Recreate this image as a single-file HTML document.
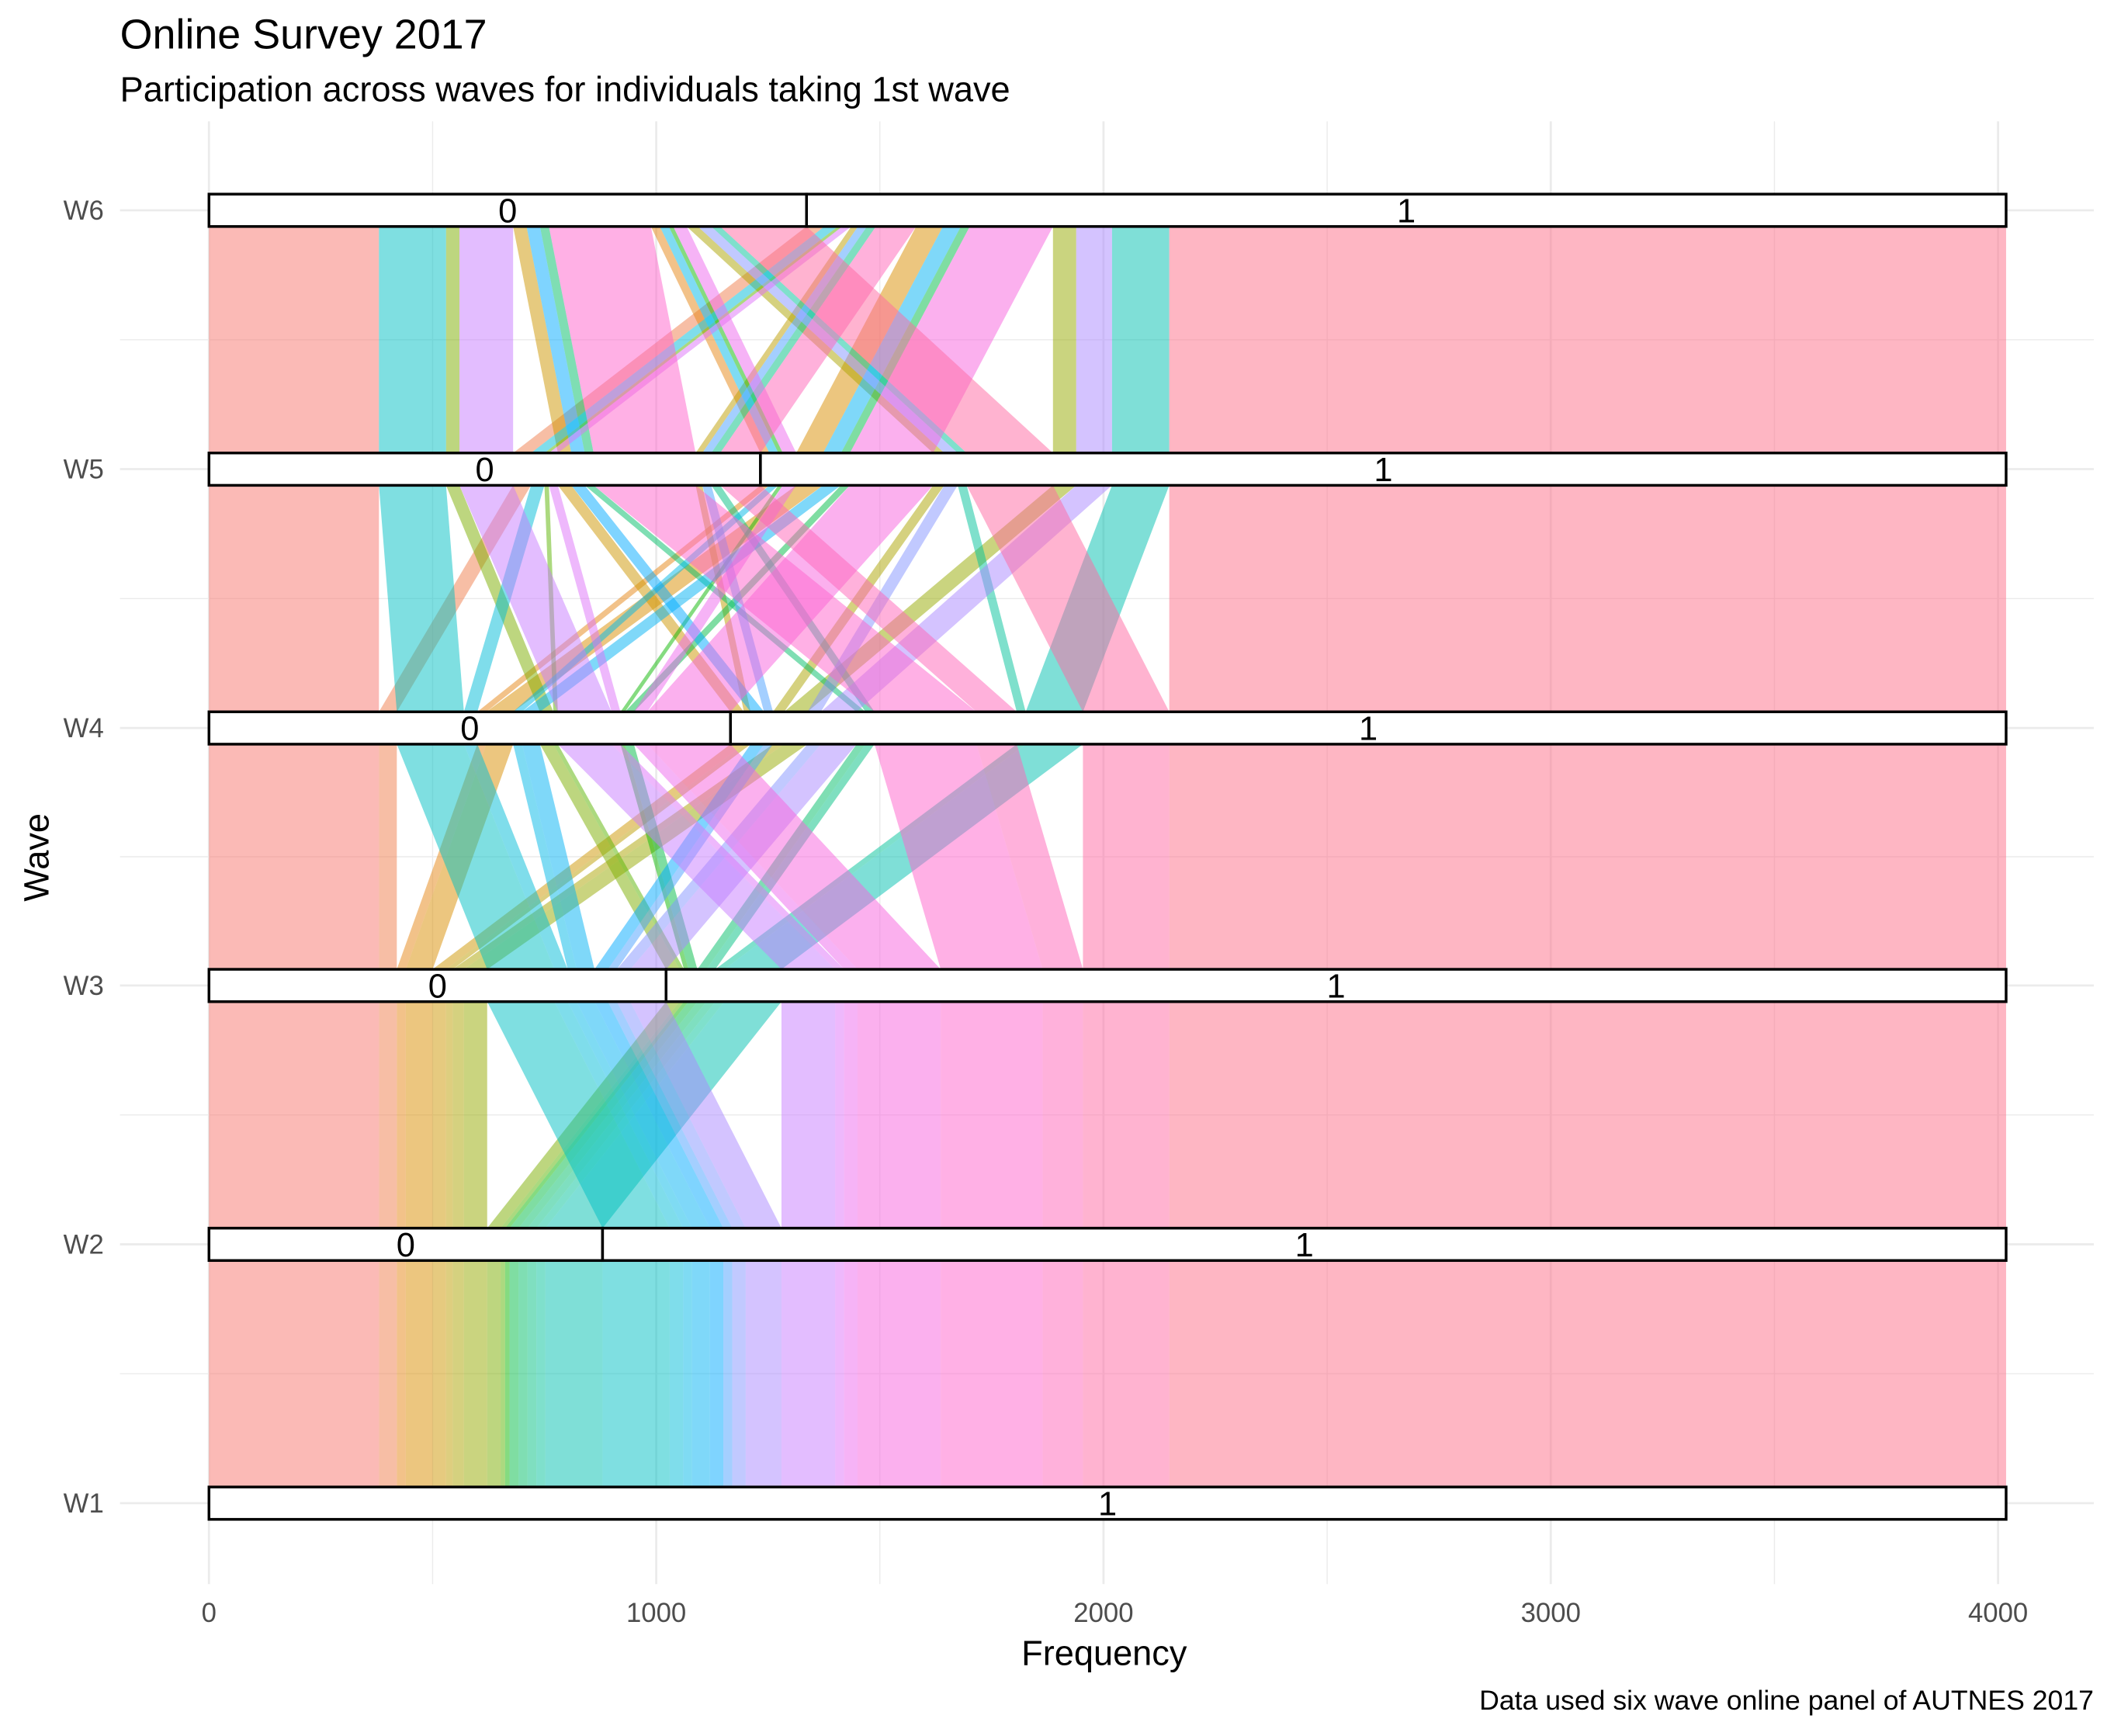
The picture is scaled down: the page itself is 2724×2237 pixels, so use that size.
<!DOCTYPE html>
<html><head><meta charset="utf-8"><title>Online Survey 2017</title>
<style>html,body{margin:0;padding:0;background:#fff}svg{display:block}</style></head>
<body>
<svg id="chart" xmlns="http://www.w3.org/2000/svg" width="2724" height="2237" viewBox="0 0 1568 1287.7" preserveAspectRatio="none" font-family="Liberation Sans, sans-serif">
<rect width="1568" height="1288" fill="#fff"/>
<g id="grid"></g>
<g id="flows"></g>
<g id="strata"></g>
<g id="axes"></g>
<text x="89" y="36" font-size="31" fill="#000">Online Survey 2017</text>
<text x="89" y="75" font-size="26" fill="#000">Participation across waves for individuals taking 1st wave</text>
<text x="819" y="1235" font-size="26" text-anchor="middle" fill="#000">Frequency</text>
<text transform="translate(36,636) rotate(-90)" font-size="26" text-anchor="middle" fill="#000">Wave</text>
<text x="1553" y="1268" font-size="20.5" text-anchor="end" fill="#000">Data used six wave online panel of AUTNES 2017</text>
</svg>
<script>
// ---- data ----
const waves = ["W1","W2","W3","W4","W5","W6"];
const patterns = ["00000","00001","00010","00011","00100","00101","00110","00111","01000","01001","01010","01011","01100","01101","01110","01111",
                  "10000","10001","10010","10011","10100","10101","10110","10111","11000","11001","11010","11011","11100","11101","11110","11111"];
const counts = [380,40,20,60,30,15,25,52,30,10,10,20,20,20,20,128,
                150,30,20,40,30,20,30,80,120,20,30,186,228,90,193,1871];
const xTicks = [0,1000,2000,3000,4000];

// ---- scales ----
const X0 = 155, XS = (1482-155)/4000;
const xs = v => X0 + v*XS;
const waveY = [1115,923,731,540,348,156];
const ys = i => waveY[i];
const HB = 12;
const NS = "http://www.w3.org/2000/svg";
function mk(tag, attrs, parent){const e=document.createElementNS(NS,tag);for(const k in attrs)e.setAttribute(k,attrs[k]);parent.appendChild(e);return e;}

function hcl(h){const L=65,C=100;const u=C*Math.cos(h*Math.PI/180),v=C*Math.sin(h*Math.PI/180);
  const Y=Math.pow((L+16)/116,3);const un=0.1978,vn=0.4683;
  const up=u/(13*L)+un,vp=v/(13*L)+vn;
  const X=Y*9*up/(4*vp),Z=Y*(12-3*up-20*vp)/(4*vp);
  const Xn=0.95047,Zn=1.08883;
  const Xs=X*Xn/(un*9/(4*vn)), Zs=Z*Zn/((12-3*un-20*vn)/(4*vn));
  let r=3.2406*Xs-1.5372*Y-0.4986*Zs,g=-0.9689*Xs+1.8758*Y+0.0415*Zs,bb=0.0557*Xs-0.2040*Y+1.0570*Zs;
  const c=t=>{t=t>0.0031308?1.055*Math.pow(t,1/2.4)-0.055:12.92*t;return Math.round(Math.max(0,Math.min(1,t))*255);};
  return `rgb(${c(r)},${c(g)},${c(bb)})`;}

const bit=(p,k)=>k===0?1:+patterns[p][k-1];

// ---- grid ----
const grid=document.getElementById('grid');
for(let v=0;v<=4000;v+=500){const e=mk('line',{x1:xs(v),x2:xs(v),y1:90,y2:1175,stroke:'#ebebeb','stroke-width':v%1000===0?1.6:0.8},grid);
  
  }
for(let i=0;i<6;i++){const e=mk('line',{x1:89,x2:1553,y1:ys(i),y2:ys(i),stroke:'#ebebeb','stroke-width':1.6},grid);
  
  
  if(i<5){const m=mk('line',{x1:89,x2:1553,y1:(ys(i)+ys(i+1))/2,y2:(ys(i)+ys(i+1))/2,stroke:'#ebebeb','stroke-width':0.8},grid);
  
  }}

// ---- lode positions ----
const N=counts.reduce((a,b)=>a+b,0);
const pos=[];
for(let k=0;k<6;k++){
  const order=[];
  for(let j=0;j<6;j++){order.push(k-j,k+j);}
  const keys=[...new Set(order.filter(v=>v>=0&&v<6))];
  const idx=patterns.map((_,i)=>i).sort((a,b)=>{for(const q of keys){const d=bit(a,q)-bit(b,q);if(d)return d;}return a-b;});
  const p=new Array(patterns.length);let acc=0;
  for(const i of idx){p[i]=acc;acc+=counts[i];}
  pos.push(p);
}

// ---- flows ----
const flows=document.getElementById('flows');
for(let k=0;k<5;k++){
  for(let i=0;i<patterns.length;i++){
    const a=pos[k][i],b=pos[k+1][i],w=counts[i];
    const y1=ys(k)-HB,y2=ys(k+1)+HB;
    const e=mk('polygon',{points:`${xs(a)},${y1} ${xs(a+w)},${y1} ${xs(b+w)},${y2} ${xs(b)},${y2}`,fill:hcl(15+360*i/32),'fill-opacity':0.5},flows);
    
    
  }
}

// ---- strata ----
const strata=document.getElementById('strata');
for(let k=0;k<6;k++){
  let n0=0;for(let i=0;i<patterns.length;i++)if(bit(i,k)===0)n0+=counts[i];
  const segs=n0>0?[[0,n0,'0'],[n0,N,'1']]:[[0,N,'1']];
  for(const [s,e2,lab] of segs){
    const r=mk('rect',{x:xs(s),y:ys(k)-HB,width:xs(e2)-xs(s),height:2*HB,fill:'#fff',stroke:'#000','stroke-width':2},strata);
    
    
    const t=mk('text',{x:(xs(s)+xs(e2))/2,y:ys(k)+9,'font-size':25,'text-anchor':'middle',fill:'#000'},strata);
    t.textContent=lab;
    
    
  }
}

// ---- axes labels ----
const axes=document.getElementById('axes');
xTicks.forEach(v=>{const t=mk('text',{x:xs(v),y:1203,'font-size':20,'text-anchor':'middle',fill:'#4d4d4d'},axes);t.textContent=v;
  
  });
waves.forEach((w,i)=>{const t=mk('text',{x:77,y:ys(i)+7,'font-size':20,'text-anchor':'end',fill:'#4d4d4d'},axes);t.textContent=w;
  
  });
</script>
</body></html>
